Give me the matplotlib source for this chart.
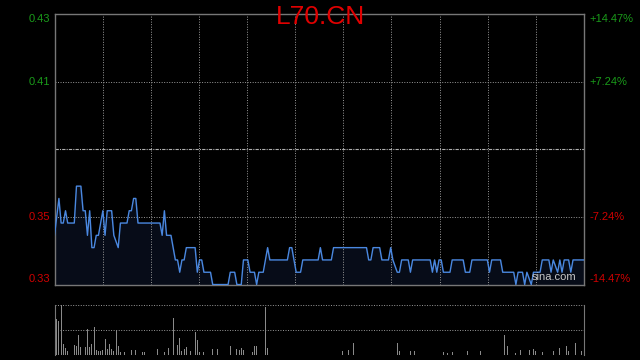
import numpy as np
import matplotlib
matplotlib.use("Agg")
import matplotlib.pyplot as plt

plt.rcParams['font.family'] = ['Liberation Sans', 'DejaVu Sans']

# intraday price, minute index -> price
minutes = [0, 2, 3, 4, 5, 6, 9, 10, 12, 13, 14, 15, 16, 17, 18, 19, 20, 22, 23, 24,
           26, 27, 29, 30, 33, 34, 35, 36, 37, 38, 48, 49, 50, 51, 53, 54, 55, 56, 57, 58,
           59, 60, 64, 65, 66, 67, 68, 71, 72, 79, 80, 82, 83, 85, 86, 88, 89, 91, 92, 93,
           95, 96, 97, 98, 106, 107, 108, 109, 110, 112, 113, 120, 121, 122, 126, 127, 142, 143, 144, 145,
           148, 149, 152, 153, 154, 156, 157, 158, 161, 162, 163, 171, 172, 173, 174, 175, 176, 177, 180, 181,
           186, 187, 189, 190, 197, 198, 199, 203, 204, 209, 210, 211, 213, 214, 215, 217, 218, 221, 222, 225,
           226, 227, 229, 230, 231, 232, 234, 235, 236, 241]
prices = [0.345, 0.36, 0.35, 0.35, 0.355, 0.35, 0.35, 0.365, 0.365, 0.355, 0.355, 0.345, 0.355, 0.34, 0.34, 0.345, 0.345, 0.355, 0.345, 0.355,
          0.355, 0.345, 0.34, 0.35, 0.35, 0.355, 0.355, 0.36, 0.36, 0.35, 0.35, 0.345, 0.355, 0.345, 0.345, 0.34, 0.335, 0.335, 0.33, 0.335,
          0.335, 0.34, 0.34, 0.33, 0.335, 0.335, 0.33, 0.33, 0.325, 0.325, 0.33, 0.33, 0.325, 0.325, 0.335, 0.335, 0.33, 0.33, 0.325, 0.33,
          0.33, 0.335, 0.34, 0.335, 0.335, 0.34, 0.34, 0.335, 0.33, 0.33, 0.335, 0.335, 0.34, 0.335, 0.335, 0.34, 0.34, 0.335, 0.335, 0.34,
          0.34, 0.335, 0.335, 0.34, 0.335, 0.33, 0.33, 0.335, 0.335, 0.33, 0.335, 0.335, 0.33, 0.335, 0.33, 0.335, 0.335, 0.33, 0.33, 0.335,
          0.335, 0.33, 0.33, 0.335, 0.335, 0.33, 0.335, 0.335, 0.33, 0.33, 0.325, 0.33, 0.33, 0.325, 0.33, 0.325, 0.33, 0.33, 0.335, 0.335,
          0.33, 0.335, 0.33, 0.335, 0.33, 0.335, 0.335, 0.33, 0.335, 0.335]

# volume bars (relative to panel height)
vol_minutes = [0, 1, 2, 3, 4, 5, 6, 9, 10, 11, 12, 14, 15, 16, 17, 18, 19, 20, 21, 22,
               23, 24, 25, 26, 27, 28, 29, 30, 32, 35, 37, 40, 41, 47, 50, 52, 54, 56, 57, 58,
               59, 60, 62, 64, 65, 66, 68, 72, 74, 80, 83, 84, 85, 86, 90, 91, 92, 96, 97, 131,
               134, 136, 156, 157, 162, 164, 177, 179, 181, 188, 194, 205, 206, 210, 212, 216, 218, 219, 222, 227,
               230, 233, 234, 237, 240]
volumes = [0.96, 0.71, 0.68, 0.99, 0.21, 0.13, 0.08, 0.19, 0.17, 0.39, 0.15, 0.15, 0.51, 0.15, 0.21, 0.56, 0.09, 0.07, 0.08, 0.09,
           0.31, 0.11, 0.21, 0.11, 0.07, 0.49, 0.17, 0.05, 0.05, 0.09, 0.09, 0.05, 0.05, 0.11, 0.05, 0.13, 0.73, 0.19, 0.33, 0.08,
           0.12, 0.16, 0.08, 0.45, 0.29, 0.05, 0.05, 0.11, 0.11, 0.17, 0.11, 0.09, 0.13, 0.09, 0.05, 0.17, 0.17, 0.95, 0.13, 0.07,
           0.09, 0.23, 0.23, 0.07, 0.07, 0.07, 0.05, 0.04, 0.05, 0.07, 0.07, 0.39, 0.17, 0.04, 0.09, 0.09, 0.11, 0.07, 0.05, 0.07,
           0.13, 0.17, 0.08, 0.23, 0.07]

prev_close = 0.38
limit_pct = 14.47
grid_pct = 7.24
n_minutes = 241

green = '#1a9c1a'
red = '#d00000'
gridc = '#9a9a9a'
dots = (0, (1, 1.6))

fig = plt.figure(figsize=(6.4, 3.6), dpi=100, facecolor='black')
ax = fig.add_axes([54.5 / 640, 1 - 284.5 / 360, 529.5 / 640, 270.5 / 360], facecolor='black')
axv = fig.add_axes([54.5 / 640, 1 - 354.7 / 360, 529.5 / 640, 50 / 360], facecolor='black')

top = prev_close * (1 + limit_pct / 100)
bot = prev_close * (1 - limit_pct / 100)
g_hi = prev_close * (1 + grid_pct / 100)
g_lo = prev_close * (1 - grid_pct / 100)

# price line with dark fill
ax.fill_between(minutes, prices, bot, color='#070c18', zorder=1)
ax.plot(minutes, prices, color='#4a88e0', linewidth=1.0, zorder=3)
ax.set_xlim(0, n_minutes)
ax.set_ylim(bot, top)

for i in range(1, 11 + 1):
    ax.axvline(i * n_minutes / 11, color=gridc, linestyle=dots, linewidth=0.7, zorder=2)
for yv in [g_hi, g_lo]:
    ax.axhline(yv, color=gridc, linestyle=dots, linewidth=0.7, zorder=2)
ax.axhline(prev_close, color='#b0b0b0', linestyle=(0, (3, 1, 1, 1)), linewidth=0.8, zorder=2)

ax.set_xticks([])
ax.set_yticks([])
for s in ax.spines.values():
    s.set_color('#777777')
    s.set_linewidth(1.0)

# axis labels
fs = 8
ax.text(-0.008, top, '0.43', color=green, fontsize=fs, ha='right', va='top', transform=ax.get_yaxis_transform())
ax.text(-0.008, g_hi, '0.41', color=green, fontsize=fs, ha='right', va='center', transform=ax.get_yaxis_transform())
ax.text(-0.008, g_lo, '0.35', color=red, fontsize=fs, ha='right', va='center', transform=ax.get_yaxis_transform())
ax.text(-0.008, bot, '0.33', color=red, fontsize=fs, ha='right', va='bottom', transform=ax.get_yaxis_transform())
ax.text(1.011, top, '+14.47%', color=green, fontsize=fs, ha='left', va='top', transform=ax.get_yaxis_transform())
ax.text(1.011, g_hi, '+7.24%', color=green, fontsize=fs, ha='left', va='center', transform=ax.get_yaxis_transform())
ax.text(1.011, g_lo, '-7.24%', color=red, fontsize=fs, ha='left', va='center', transform=ax.get_yaxis_transform())
ax.text(1.011, bot, '-14.47%', color=red, fontsize=fs, ha='left', va='bottom', transform=ax.get_yaxis_transform())

ax.text(0.985, 0.01, 'sina.com', color='#c8c8c8', fontsize=8, ha='right', va='bottom', transform=ax.transAxes, zorder=4)

fig.text(0.5, 1 - 17 / 360, 'L70.CN', color='#e00000', fontsize=19, ha='center', va='center')

# volume panel
axv.bar(vol_minutes, volumes, width=0.45, color='#8a8a8a', zorder=3)
axv.set_xlim(0, n_minutes)
axv.set_ylim(0, 1)
axv.axhline(0.5, color=gridc, linestyle=dots, linewidth=0.7)
axv.axhline(0.995, color=gridc, linestyle=dots, linewidth=0.7)
axv.axhline(0.0, color='#666666', linestyle=dots, linewidth=0.7)
axv.set_xticks([])
axv.set_yticks([])
for k in ['top', 'bottom']:
    axv.spines[k].set_visible(False)
for k in ['left', 'right']:
    axv.spines[k].set_color('#777777')

fig.savefig('out.png', dpi=100, facecolor='black')
